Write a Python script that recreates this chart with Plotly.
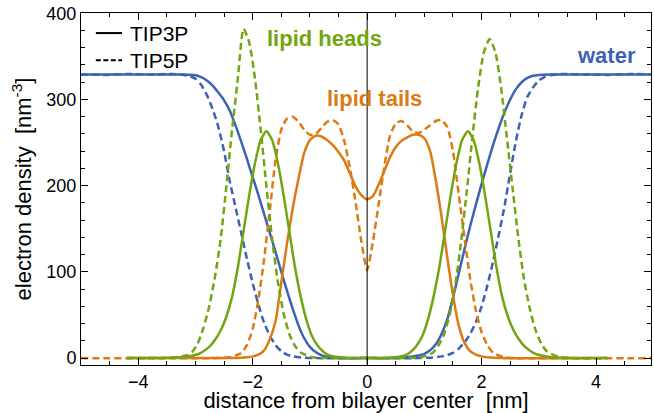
import plotly.graph_objects as go

# ---------------- data ----------------
water_tip3p_x = [-5.0, -4.0, -3.2, -3.0, -2.9, -2.8, -2.7, -2.6, -2.5, -2.4, -2.3, -2.2, -2.1, -2.0,
                 -1.9, -1.8, -1.7, -1.6, -1.5, -1.4, -1.3, -1.2, -1.1, -1.0, -0.9, -0.8, -0.7, -0.6,
                 -0.4, 0.0, 0.4, 0.6, 0.8, 0.9, 1.0, 1.1, 1.2, 1.3, 1.4, 1.5, 1.6, 1.7, 1.8, 1.9,
                 2.0, 2.1, 2.2, 2.3, 2.4, 2.5, 2.6, 2.7, 2.8, 2.9, 3.0, 3.2, 4.0, 5.0]
water_tip3p_y = [329, 329, 329, 328, 326, 322, 316, 308, 299, 287, 270, 251, 231, 210,
                 189, 167, 145, 123, 100, 78, 57, 38, 23, 13, 7, 3.5, 1.5, 0.6,
                 0, 0, 0, 0.6, 2, 3, 5, 9, 16, 28, 45, 70, 98, 126, 153, 178,
                 202, 225, 247, 267, 285, 300, 312, 320, 325, 327.5, 328.5, 329, 329, 329]

water_tip5p_x = [-5.0, -4.6, -4.2, -3.8, -3.4, -3.2, -3.1, -3.0, -2.9, -2.8, -2.7, -2.6, -2.5, -2.4,
                 -2.3, -2.2, -2.1, -2.0, -1.9, -1.8, -1.7, -1.6, -1.5, -1.4, -1.3, -1.1, -0.9, 0.0,
                 0.9, 1.1, 1.3, 1.4, 1.5, 1.6, 1.7, 1.8, 1.9, 2.0, 2.1, 2.2, 2.3, 2.4, 2.5, 2.6,
                 2.7, 2.8, 2.9, 3.0, 3.1, 3.2, 3.4, 3.8, 4.2, 4.6, 5.0]
water_tip5p_y = [329, 328.5, 329.5, 329, 329.5, 328.5, 327, 324, 317, 305, 289, 268, 240, 205,
                 175, 145, 115, 87, 62, 41, 26, 15, 8, 4, 2, 0.5, 0, 0,
                 0, 0.5, 2, 3.5, 6, 11, 18, 28, 42, 60, 84, 112, 143, 176, 215, 252,
                 282, 303, 314, 322, 326, 328, 329.5, 329, 328.5, 329.5, 329]

heads_tip3p_x = [-4.2, -3.4, -3.16, -2.96, -2.86, -2.76, -2.66, -2.56, -2.46, -2.36, -2.26, -2.16,
                 -2.06, -1.96, -1.86, -1.76, -1.66, -1.56, -1.46, -1.36, -1.26, -1.16, -1.06, -0.96,
                 -0.86, -0.76, -0.66, -0.56, -0.36, 0.0,
                 0.36, 0.56, 0.66, 0.76, 0.86, 0.96, 1.06, 1.16, 1.26, 1.36, 1.46, 1.56, 1.66,
                 1.76, 1.86, 1.96, 2.06, 2.16, 2.26, 2.36, 2.46, 2.56, 2.66, 2.76, 2.86, 2.96,
                 3.16, 3.4, 4.2]
heads_tip3p_y = [0, 0.3, 1.5, 4.5, 8, 13, 21, 32, 48, 71, 105, 147,
                 189, 226, 253, 263, 253, 226, 189, 147, 105, 71, 44, 25,
                 14, 7, 3, 1.5, 0.3, 0,
                 0.3, 1.5, 3, 7, 14, 25, 44, 71, 105, 147, 189, 226, 253,
                 263, 253, 226, 189, 147, 105, 71, 48, 32, 21, 13, 8, 4.5,
                 1.5, 0.3, 0]

heads_tip5p_x = [-4.2, -3.6, -3.36, -3.16, -3.06, -2.96, -2.86, -2.76, -2.66, -2.56, -2.46, -2.36,
                 -2.26, -2.16, -2.06, -1.96, -1.86, -1.76, -1.66, -1.56, -1.46, -1.36, -1.26,
                 -1.16, -0.96, 0.0,
                 0.94, 1.14, 1.24, 1.34, 1.44, 1.54, 1.64, 1.74, 1.84, 1.94, 2.04, 2.14, 2.24,
                 2.34, 2.44, 2.54, 2.64, 2.74, 2.84, 2.94, 3.04, 3.14, 3.34, 3.6, 4.2]
heads_tip5p_y = [0, 0.1, 1, 3, 7, 17, 35, 60, 94, 138, 199, 265,
                 324, 382, 366, 324, 265, 199, 138, 88, 52, 28, 14,
                 6.4, 1, 0,
                 1, 6, 14, 27, 50, 85, 134, 193, 257, 314, 355, 370, 355,
                 314, 257, 198, 140, 92, 58, 33, 17, 8, 1.5, 0.1, 0]

tails_tip3p_x = [-4.2, -2.4, -2.2, -2.1, -2.0, -1.9, -1.8, -1.7, -1.6, -1.5, -1.4, -1.3, -1.2,
                 -1.1, -1.0, -0.9, -0.8, -0.7, -0.6, -0.5, -0.4, -0.3, -0.2, -0.1, 0.0, 0.1, 0.2,
                 0.3, 0.4, 0.5, 0.6, 0.7, 0.8, 0.9, 1.0, 1.1, 1.2, 1.3, 1.4, 1.5, 1.6, 1.7, 1.8,
                 1.9, 2.0, 2.1, 2.3, 4.2]
tails_tip3p_y = [0, 0, 0.5, 1, 2, 4, 9, 22, 43, 88, 133, 174, 208,
                 238, 253, 258, 257, 253, 247, 239, 229, 214, 199, 189, 184, 188, 201,
                 217, 233, 245, 252, 256, 259, 259, 255, 240, 206, 164, 117, 73, 38, 18, 8,
                 4, 2, 1, 0, 0]

tails_tip5p_x = [-5.0, -2.6, -2.4, -2.3, -2.2, -2.1, -2.0, -1.9, -1.8, -1.7, -1.6, -1.5, -1.4,
                 -1.3, -1.2, -1.1, -1.0, -0.9, -0.8, -0.7, -0.6, -0.5, -0.4, -0.3, -0.2, -0.1,
                 0.0, 0.1, 0.2, 0.3, 0.4, 0.5, 0.6, 0.7, 0.8, 0.9, 1.0, 1.1, 1.2, 1.3, 1.4, 1.5,
                 1.6, 1.7, 1.8, 1.9, 2.0, 2.1, 2.2, 2.3, 2.4, 2.6, 5.0]
tails_tip5p_y = [0, 0, 1, 3, 6, 15, 34, 68, 115, 172, 230, 265, 278,
                 280, 274, 265, 259, 260, 267, 274, 276, 271, 252, 220, 180, 135,
                 102, 135, 178, 222, 258, 272, 275, 270, 263, 261, 265, 270, 275, 276, 268, 240,
                 190, 140, 92, 55, 30, 15, 6, 3, 1, 0, 0]

x_ticks = [-4, -2, 0, 2, 4]
y_ticks = [0, 100, 200, 300, 400]
legend_names = ["TIP3P", "TIP5P"]

BLUE = "#3d62b5"
GREEN = "#72a611"
ORANGE = "#dc7a14"
DASH = "7px,4px"
FONT = "Liberation Sans, Arial, Helvetica, sans-serif"

fig = go.Figure()

def add(x, y, color, dash):
    fig.add_trace(go.Scatter(x=x, y=y, mode="lines", showlegend=False,
                             line=dict(color=color, width=2.5, dash=dash,
                                       shape="spline", smoothing=0.6),
                             hoverinfo="skip"))

add(water_tip5p_x, water_tip5p_y, BLUE, DASH)
add(water_tip3p_x, water_tip3p_y, BLUE, "solid")
add(tails_tip5p_x, tails_tip5p_y, ORANGE, DASH)
add(tails_tip3p_x, tails_tip3p_y, ORANGE, "solid")
add(heads_tip5p_x, heads_tip5p_y, GREEN, DASH)
add(heads_tip3p_x, heads_tip3p_y, GREEN, "solid")

fig.add_vline(x=0, line=dict(color="black", width=1))

# legend (top-left, inside the frame)
legend_rows = [(0.943, "solid"), (0.866, "5px,2.5px")]
for name, (yy, dash) in zip(legend_names, legend_rows):
    fig.add_shape(type="line", xref="paper", yref="paper", x0=0.026, x1=0.072, y0=yy, y1=yy,
                  line=dict(color="black", width=2, dash=dash))
    fig.add_annotation(xref="paper", yref="paper", x=0.0825, y=yy, xanchor="left",
                       yanchor="middle", text=name, showarrow=False,
                       font=dict(color="black", size=21, family=FONT))

fig.add_annotation(x=-0.74, y=371, text="<b>lipid heads</b>", showarrow=False,
                   font=dict(color=GREEN, size=22, family=FONT))
fig.add_annotation(x=0.13, y=301, text="<b>lipid tails</b>", showarrow=False,
                   font=dict(color=ORANGE, size=22, family=FONT))
fig.add_annotation(x=4.19, y=351, text="<b>water</b>", showarrow=False,
                   font=dict(color=BLUE, size=22, family=FONT))

axis_common = dict(showline=True, mirror="ticks", linecolor="black", linewidth=1,
                   ticks="inside", tickcolor="black", tickwidth=1, showgrid=False,
                   zeroline=False, tickfont=dict(size=18, family=FONT, color="black"))

fig.update_layout(
    width=654, height=413,
    margin=dict(l=81, r=3, t=13, b=48),
    paper_bgcolor="white", plot_bgcolor="white",
    font=dict(family=FONT, color="black"),
    showlegend=False,
    xaxis=dict(range=[-5, 4.96], tickvals=x_ticks, ticklen=7,
               minor=dict(dtick=0.5, tick0=0, ticklen=4, ticks="inside", tickcolor="black"),
               title=dict(text="distance from bilayer center  [nm]",
                          font=dict(size=22, family=FONT), standoff=3),
               **axis_common),
    yaxis=dict(range=[-8, 400.3], tickvals=y_ticks, ticklen=7,
               minor=dict(dtick=20, tick0=0, ticklen=4, ticks="inside", tickcolor="black"),
               title=dict(text="electron density  [nm<sup>-3</sup>]",
                          font=dict(size=22, family=FONT), standoff=8),
               **axis_common),
)

fig.write_html("out.html", config={"displayModeBar": False},
               post_script="document.body.style.margin='0';document.body.style.overflow='hidden';")
